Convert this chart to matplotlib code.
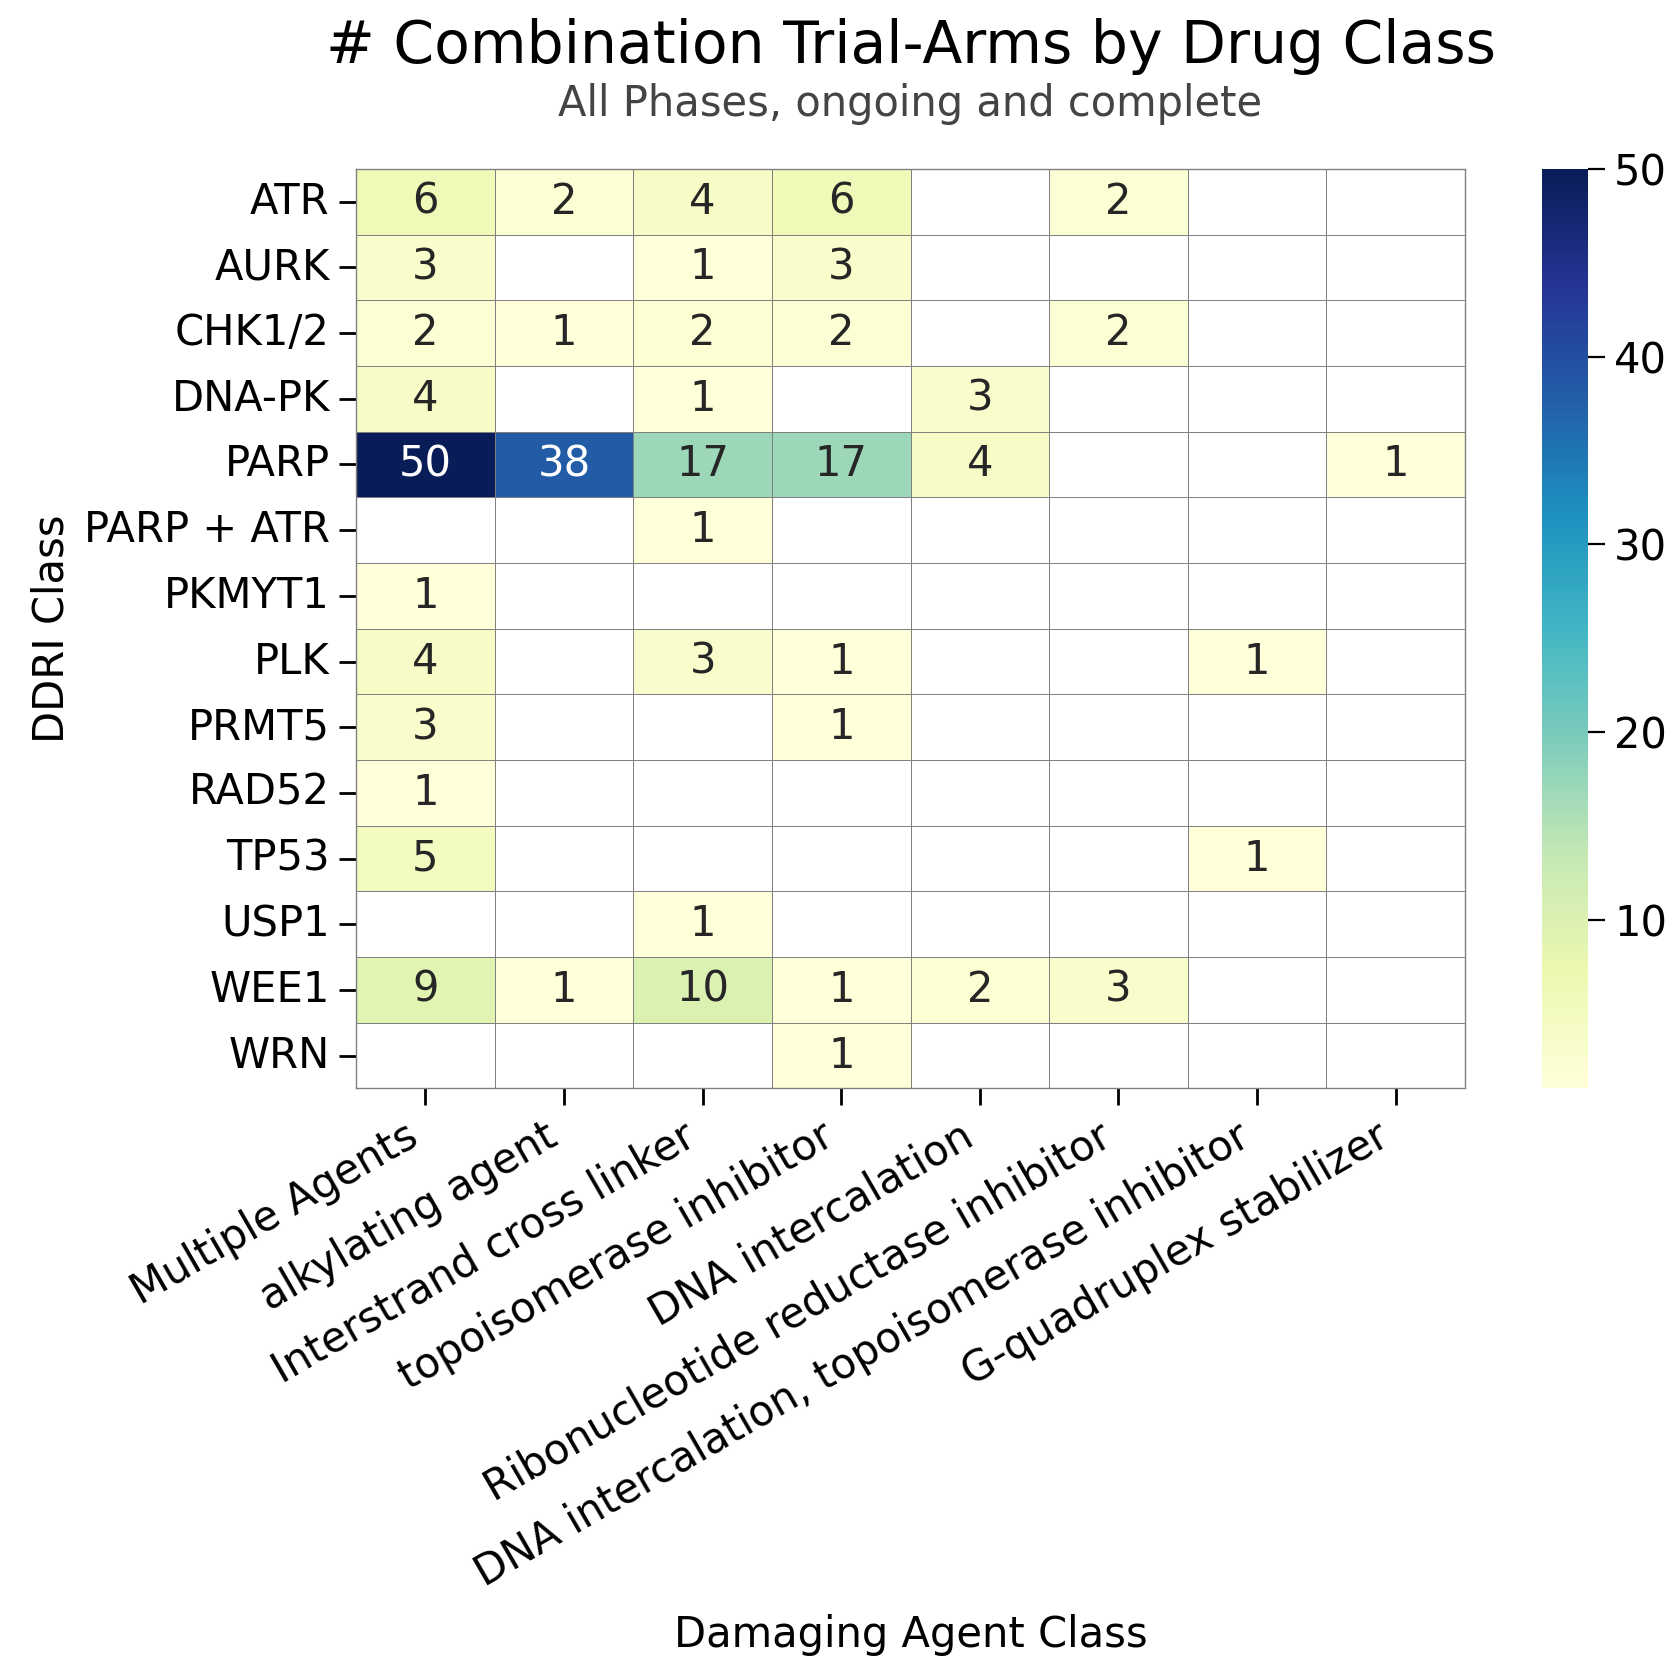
import numpy as np
import pandas as pd
import seaborn as sns
import matplotlib.pyplot as plt

nan = np.nan
ddri = ["ATR", "AURK", "CHK1/2", "DNA-PK", "PARP", "PARP + ATR", "PKMYT1",
        "PLK", "PRMT5", "RAD52", "TP53", "USP1", "WEE1", "WRN"]
agents = ["Multiple Agents", "alkylating agent", "Interstrand cross linker",
          "topoisomerase inhibitor", "DNA intercalation",
          "Ribonucleotide reductase inhibitor",
          "DNA intercalation, topoisomerase inhibitor",
          "G-quadruplex stabilizer"]
counts = [
    [6, 2, 4, 6, nan, 2, nan, nan],
    [3, nan, 1, 3, nan, nan, nan, nan],
    [2, 1, 2, 2, nan, 2, nan, nan],
    [4, nan, 1, nan, 3, nan, nan, nan],
    [50, 38, 17, 17, 4, nan, nan, 1],
    [nan, nan, 1, nan, nan, nan, nan, nan],
    [1, nan, nan, nan, nan, nan, nan, nan],
    [4, nan, 3, 1, nan, nan, 1, nan],
    [3, nan, nan, 1, nan, nan, nan, nan],
    [1, nan, nan, nan, nan, nan, nan, nan],
    [5, nan, nan, nan, nan, nan, 1, nan],
    [nan, nan, 1, nan, nan, nan, nan, nan],
    [9, 1, 10, 1, 2, 3, nan, nan],
    [nan, nan, nan, 1, nan, nan, nan, nan],
]

df = pd.DataFrame(counts, index=ddri, columns=agents)

sns.set_style("ticks")
plt.rcParams['font.family'] = ['DejaVu Sans']
for k in ['text.color', 'axes.labelcolor', 'xtick.color', 'ytick.color']:
    plt.rcParams[k] = 'black'

fig = plt.figure(figsize=(8.4, 8.36), dpi=200)
ax = fig.add_axes([0.212, 0.349, 0.660, 0.550])
cax = fig.add_axes([0.918, 0.349, 0.027, 0.550])

sns.heatmap(df, ax=ax, cbar_ax=cax, cmap="YlGnBu", vmin=1, vmax=50,
            annot=True, fmt=".0f", annot_kws={"size": 15},
            linewidths=0.35, linecolor="gray")

for s in ax.spines.values():
    s.set_visible(True)
    s.set_color("gray")
    s.set_linewidth(0.5)

ax.set_xticklabels(agents, rotation=30, ha="right", fontsize=15)
ax.set_yticklabels(ddri, rotation=0, fontsize=15)
ax.tick_params(axis="both", length=6, width=1)
ax.set_xlabel("Damaging Agent Class", fontsize=15, labelpad=7)
ax.set_ylabel("DDRI Class", fontsize=15)

cax.tick_params(labelsize=15, length=6)
cax.set_yticks([10, 20, 30, 40, 50])

fig.text(0.542, 0.972, "# Combination Trial-Arms by Drug Class",
         ha="center", va="center", fontsize=21)
fig.text(0.542, 0.938, "All Phases, ongoing and complete",
         ha="center", va="center", fontsize=15, color="#444444")

fig.savefig("out.png", dpi=200)
